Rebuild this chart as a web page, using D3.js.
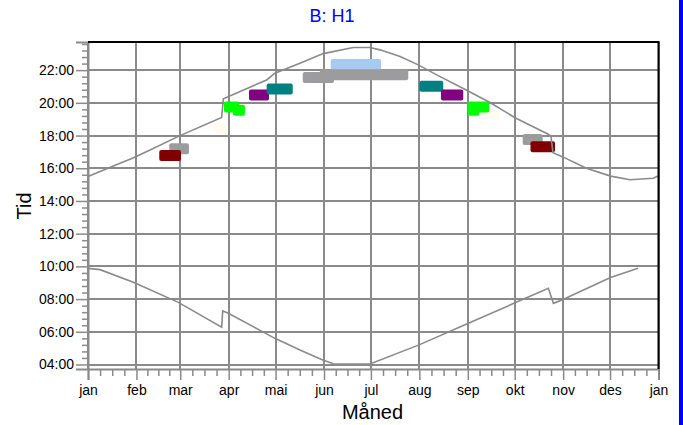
<!DOCTYPE html>
<html>
<head>
<meta charset="utf-8">
<script src="https://cdn.jsdelivr.net/npm/d3@7"></script>
<style>
  body { margin: 0; background: white; }
  text { font-family: "Liberation Sans", Arial, sans-serif; }
</style>
</head>
<body>
<div id="wrapper"></div>
<script>
// month ticks (day of year) and their labels
const monthDays = [0, 31, 59, 90, 120, 151, 181, 212, 243, 273, 304, 334, 365]
const monthLabels = ["jan", "feb", "mar", "apr", "mai", "jun", "jul", "aug", "sep", "okt", "nov", "des", "jan"]
const hourTicks = [4, 6, 8, 10, 12, 14, 16, 18, 20, 22]

// upper curve (evening)
const upperDay  = [0, 20.5, 28.8, 39.7, 57.8, 85.5, 86.6, 114.3, 119.6, 135.6, 150.5, 169.7, 180.4, 186.8, 199.7, 211.3, 223.1, 242.3, 257.2, 273.2, 294.5, 296.2, 297.5, 303.4, 318.9, 334.4, 346.8, 361.7, 364.6]
const upperTime = [15.49, 16.31, 16.63, 17.12, 17.95, 19.10, 20.25, 21.40, 21.81, 22.42, 23.01, 23.38, 23.38, 23.24, 22.83, 22.32, 21.71, 20.77, 20.02, 19.09, 18.08, 17.95, 16.95, 16.71, 16.00, 15.52, 15.30, 15.39, 15.53]

// lower curve (morning)
const lowerDay  = [0.2, 7.7, 29, 57.8, 85.5, 86.2, 89.8, 119.6, 135.6, 150.2, 157, 180.4, 211.8, 242.3, 273.2, 294.5, 297.8, 303.9, 334.3, 351.9]
const lowerTime = [9.88, 9.80, 9.03, 7.80, 6.28, 7.27, 7.13, 5.60, 4.89, 4.28, 4.05, 4.03, 5.20, 6.48, 7.77, 8.66, 7.74, 7.97, 9.32, 9.88]

// observation bars: start day, end day, time of day, group
const barStart = [52.0, 45.6, 80.2, 87.0, 92.6, 103.0, 114.3, 155.3, 137.4, 148.4, 212.0, 225.8, 250.2, 243.0, 243.0, 278.1, 283.1]
const barEnd   = [64.6, 59.5, 88.3, 96.8, 100.4, 115.8, 131.0, 187.5, 157.4, 204.9, 227.3, 240.1, 263.2, 256.7, 250.4, 290.9, 298.8]
const barTime  = [17.20, 16.78, 18.45, 19.74, 19.55, 20.48, 20.84, 22.34, 21.55, 21.72, 21.01, 20.48, 19.31, 19.74, 19.55, 17.76, 17.32]
const barGroup = ["gray", "darkred", "beige", "green", "green", "purple", "teal", "lightblue", "gray", "gray", "teal", "purple", "beige", "green", "green", "gray", "darkred"]

function drawChart() {

    const colors = {
        darkred: "#800000",
        gray: "#9c9c9e",
        beige: "#fffbf0",
        green: "#00ff00",
        purple: "#800080",
        teal: "#008080",
        lightblue: "#a6caf0"
    }
    const gridColor = "#8a8a8a"

    // 1. Dimensions
    let dimensions = {
        width: 683,
        height: 425,
        margin: { top: 42, right: 24.5, bottom: 56, left: 88 }
    }
    dimensions.boundedWidth = dimensions.width - dimensions.margin.left - dimensions.margin.right
    dimensions.boundedHeight = dimensions.height - dimensions.margin.top - dimensions.margin.bottom

    // 2. Canvas
    const svg = d3.select("#wrapper")
        .append("svg")
        .attr("width", dimensions.width)
        .attr("height", dimensions.height)
        .style("display", "block")

    svg.append("rect")
        .attr("width", dimensions.width)
        .attr("height", dimensions.height)
        .attr("fill", "white")

    // 3. Scales
    const xScale = d3.scaleLinear()
        .domain([0, 365])
        .range([dimensions.margin.left, dimensions.width - dimensions.margin.right])

    const yScale = d3.scaleLinear()
        .domain([3.725, 23.72])
        .range([dimensions.height - dimensions.margin.bottom, dimensions.margin.top])

    const x0 = xScale.range()[0], x1 = xScale.range()[1]
    const yBottom = yScale.range()[0], yTop = yScale.range()[1]

    // minor ticks: quarter months, 24 minutes
    const minorX = []
    for (let i = 0; i < monthDays.length - 1; i++) {
        const len = monthDays[i + 1] - monthDays[i]
        for (let k = 1; k < 4; k++) minorX.push(monthDays[i] + len * k / 4)
    }
    const minorY = d3.range(4, 23.7, 0.4).filter(h => Math.abs(h - Math.round(h / 2) * 2) > 0.01)

    // 4. Grid (snapped to whole pixels so the 2px lines stay crisp)
    const grid = svg.append("g")
    grid.selectAll(".vgrid")
        .data(monthDays)
        .join("line")
        .attr("x1", d => Math.round(xScale(d))).attr("x2", d => Math.round(xScale(d)))
        .attr("y1", yTop).attr("y2", yBottom)
        .attr("stroke", gridColor)
        .attr("stroke-width", 2)
    grid.selectAll(".hgrid")
        .data(hourTicks)
        .join("line")
        .attr("x1", x0).attr("x2", x1)
        .attr("y1", d => Math.round(yScale(d))).attr("y2", d => Math.round(yScale(d)))
        .attr("stroke", gridColor)
        .attr("stroke-width", 2)

    // 5. Bars
    const bars = d3.range(barStart.length)
    svg.append("g")
        .selectAll("rect")
        .data(bars)
        .join("rect")
        .attr("x", i => xScale(barStart[i]))
        .attr("width", i => xScale(barEnd[i]) - xScale(barStart[i]))
        .attr("y", i => yScale(barTime[i]) - 5.5)
        .attr("height", 11)
        .attr("rx", 2)
        .attr("fill", i => colors[barGroup[i]])

    // 6. Curves
    const line = d3.line()
        .x(d => xScale(d[0]))
        .y(d => yScale(d[1]))

    svg.append("path")
        .datum(upperDay.map((d, i) => [d, upperTime[i]]))
        .attr("d", line)
        .attr("fill", "none")
        .attr("stroke", gridColor)
        .attr("stroke-width", 1.6)

    svg.append("path")
        .datum(lowerDay.map((d, i) => [d, lowerTime[i]]))
        .attr("d", line)
        .attr("fill", "none")
        .attr("stroke", gridColor)
        .attr("stroke-width", 1.6)

    // 7. Axes
    const fmt = d3.format("02d")
    svg.append("g")
        .attr("transform", `translate(${x0},0)`)
        .call(d3.axisLeft(yScale).tickValues(hourTicks).tickSize(12).tickPadding(2)
            .tickFormat(d => fmt(d) + ":00"))
    svg.append("g")
        .attr("transform", `translate(${x0},0)`)
        .call(d3.axisLeft(yScale).tickValues(minorY).tickSize(6).tickFormat(""))
        .call(g => g.select(".domain").remove())

    svg.append("g")
        .attr("transform", `translate(0,${yBottom})`)
        .call(d3.axisBottom(xScale).tickValues(monthDays).tickSize(11).tickPadding(5)
            .tickFormat((d, i) => monthLabels[i]))
    svg.append("g")
        .attr("transform", `translate(0,${yBottom})`)
        .call(d3.axisBottom(xScale).tickValues(minorX).tickSize(7).tickFormat(""))
        .call(g => g.select(".domain").remove())

    svg.selectAll(".domain, .tick line")
        .attr("stroke", gridColor)
        .attr("stroke-width", 1.5)
    svg.selectAll(".domain").attr("stroke-width", 2)
    svg.selectAll(".tick text")
        .attr("fill", "black")
        .style("font-family", "\"Liberation Sans\", Arial, sans-serif")
        .style("font-size", "14px")

    // black frame on top and right
    svg.append("path")
        .attr("d", `M${x0},${yTop}H${x1}V${yBottom}`)
        .attr("fill", "none")
        .attr("stroke", "black")
        .attr("stroke-width", 2)

    // 8. Labels
    svg.append("text")
        .attr("x", 332)
        .attr("y", 21.5)
        .attr("text-anchor", "middle")
        .attr("fill", "#0000ff")
        .style("font-size", "18px")
        .text("B: H1")

    svg.append("text")
        .attr("transform", "translate(31,206) rotate(-90)")
        .attr("text-anchor", "middle")
        .attr("fill", "black")
        .style("font-size", "20px")
        .text("Tid")

    svg.append("text")
        .attr("x", 372.5)
        .attr("y", 419)
        .attr("text-anchor", "middle")
        .attr("fill", "black")
        .style("font-size", "20px")
        .text("Måned")

    // blue edge at the right
    svg.append("rect")
        .attr("x", 679)
        .attr("y", 0)
        .attr("width", 4)
        .attr("height", dimensions.height)
        .attr("fill", "#0000ff")
}
drawChart()
</script>
</body>
</html>
